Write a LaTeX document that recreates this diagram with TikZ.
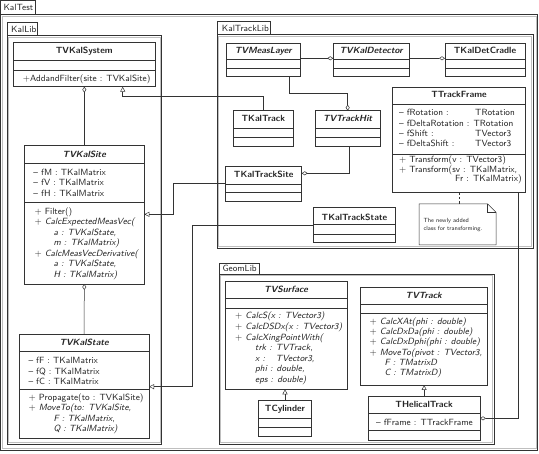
\documentclass[tikz,border=0pt]{standalone}
\usetikzlibrary{arrows.meta}
\newlength\trkw
\newcommand\st{\rule{0pt}{7pt}}
\newcommand\umlclass[7]{%
  \node[cls, minimum width={(#4)-(#2)}, minimum height={(#5)-(#3)}] (#1) at (#2,#3) {};
  \draw[lw] (#2,#6) -- (#4,#6);
  \draw[lw] (#2,#7) -- (#4,#7);}
\newcommand\umlpkg[4]{%
  \draw[pkgin] (#1+1.5,#2+1.5) rectangle (#3-1.5,#4-1.5);
  \draw[pkg] (#1,#2) rectangle (#3,#4);}
\tikzset{
  lw/.style={line width=0.5pt, draw=black!80},
  pkg/.style={draw=black!80, line width=0.6pt},
  pkgin/.style={draw=black!25, line width=1pt},
  cls/.style={draw=black!80, line width=0.5pt, fill=white, inner sep=0pt, outer sep=0pt, anchor=north west},
  ttl/.style={anchor=base, inner sep=0pt, text=black!85, font=\sffamily\bfseries\fontsize{9}{11}\selectfont},
  attl/.style={ttl, font=\sffamily\bfseries\itshape\fontsize{9}{11}\selectfont},
  lbl/.style={anchor=base west, inner sep=0pt, text=black!85, font=\sffamily\fontsize{9}{11}\selectfont},
  txt/.style={anchor=north west, inner sep=0pt, align=left, text=black!85, font=\sffamily\fontsize{9}{#1}\selectfont},
  txt/.default=10.4,
  agg/.style={draw=black!80, line width=0.5pt, -{Diamond[open, length=6pt, width=4pt]}},
  gen/.style={draw=black!80, line width=0.5pt, -{Triangle[open, length=5pt, width=5pt]}},
}
\begin{document}
\settowidth{\trkw}{\sffamily\itshape\fontsize{9}{10}\selectfont trk : }
\begin{tikzpicture}[x=1pt,y=-1pt]
\useasboundingbox (0,0) rectangle (539,454);
% packages
\umlpkg{0.5}{14.7}{537.5}{450}
\draw[pkg] (0.5,0.5) rectangle (35.7,14.7);
\node[lbl] (kaltest) at (3.3,10.5) {KalTest};
\umlpkg{7}{35.7}{161.7}{444}
\draw[pkg] (7,22.3) rectangle (37.7,35.7);
\node[lbl] (kallib) at (11,32.5) {KalLib};
\umlpkg{217}{34.7}{533}{248}
\draw[pkg] (217,21.7) rectangle (270,34.7);
\node[lbl] (kaltracklib) at (221.7,31.2) {KalTrackLib};
\umlpkg{219}{274.3}{494}{444}
\draw[pkg] (219,263.3) rectangle (259,274.3);
\node[lbl] (geomlib) at (222.3,272) {GeomLib};

% KalLib
\umlclass{kalsystem}{13.3}{42.3}{155.3}{86.7}{60.7}{70}
\node[ttl] (kalsystemT) at (kalsystem.north |- 0,54) {TVKalSystem};
\node[txt] (kalsystemM) at (22.7,74.3) {\st+AddandFilter(site : TVKalSite)};

\umlclass{kalsite}{24.3}{145.7}{144.3}{284}{163.3}{202.3}
\node[attl] (kalsiteT) at (kalsite.north |- 0,157.7) {TVKalSite};
\node[txt=10.4] (kalsiteA) at (33.3,168.3) {\st– fM : TKalMatrix\\– fV : TKalMatrix\\– fH : TKalMatrix};
\node[txt=10.56] (kalsiteM) at (34.3,207) {\st+ Filter()\\+ \textit{CalcExpectedMeasVec(}\\\hspace*{19pt}\textit{a : TVKalState,}\\\hspace*{19pt}\textit{m : TKalMatrix)}\\+ \textit{CalcMeasVecDerivative(}\\\hspace*{19pt}\textit{a : TVKalState,}\\\hspace*{19pt}\textit{H : TKalMatrix)}};

\umlclass{kalstate}{19.3}{334.3}{149}{438}{351.7}{389}
\node[attl] (kalstateT) at (kalstate.north |- 0,345.5) {TVKalState};
\node[txt=10.2] (kalstateA) at (28.3,356.7) {\st– fF : TKalMatrix\\– fQ : TKalMatrix\\– fC : TKalMatrix};
\node[txt=10.1] (kalstateM) at (28.3,393.7) {\st+ Propagate(to : TVKalSite)\\+ \textit{MoveTo(to: TVKalSite,}\\\hspace*{25pt}\textit{F : TKalMatrix,}\\\hspace*{25pt}\textit{Q : TKalMatrix)}};

% KalTrackLib
\umlclass{measlayer}{226}{43.3}{300.7}{76.7}{59.3}{68.3}
\node[attl] (measlayerT) at (measlayer.north |- 0,54) {TVMeasLayer};
\umlclass{kaldetector}{333.3}{43.3}{409}{76.7}{59.3}{68.3}
\node[attl] (kaldetectorT) at (kaldetector.north |- 0,54) {TVKalDetector};
\umlclass{cradle}{445}{43.3}{525}{76.7}{59.3}{68.3}
\node[ttl] (cradleT) at (cradle.north |- 0,54) {TKalDetCradle};

\umlclass{trackframe}{392.3}{87.3}{525.7}{192.3}{104.3}{154.3}
\node[ttl] (trackframeT) at (trackframe.north |- 0,97.5) {TTrackFrame};
\node[txt=10.2] (trackframeA) at (399,108.7) {\st– fRotation :\\– fDeltaRotation : TRotation\\– fShift :\\– fDeltaShift :};
\node[txt=10.2] (trackframeB) at (475,108.7) {\st TRotation\\\mbox{}\\TVector3\\TVector3};
\node[txt=9.9] (trackframeM) at (399,155) {\st+ Transform(v : TVector3)\\+ Transform(sv : TKalMatrix,\\\hspace*{56pt}Fr : TKalMatrix)};

\umlclass{kaltrack}{233.3}{110.7}{293.3}{146.7}{128.3}{137.3}
\node[ttl] (kaltrackT) at (kaltrack.north |- 0,122) {TKalTrack};
\umlclass{trackhit}{315.3}{110.7}{380}{146.7}{128.3}{137.3}
\node[attl] (trackhitT) at (trackhit.north |- 0,122) {TVTrackHit};
\umlclass{tracksite}{225.7}{166}{301.7}{201}{184}{192.7}
\node[ttl] (tracksiteT) at (tracksite.north |- 0,177.5) {TKalTrackSite};
\umlclass{trackstate}{313.3}{207.7}{395.7}{242.7}{224.3}{234}
\node[ttl] (trackstateT) at (trackstate.north |- 0,220.5) {TKalTrackState};

% note
\node[inner sep=0pt, outer sep=0pt, minimum width=77pt, minimum height=41pt, anchor=north west] (note) at (419,204) {};
\draw[lw] (note.north west) -- ([xshift=-8.3pt]note.north east) -- ([yshift=-8.3pt]note.north east) -- (note.south east) -- (note.south west) -- cycle;
\draw[lw] ([xshift=-8.3pt]note.north east) |- ([yshift=-8.3pt]note.north east);
\node[txt, font=\sffamily\fontsize{6}{8.3}\selectfont] (notetext) at (423.3,217) {\rule{0pt}{5pt}The newly added\\class for transforming.};

% GeomLib
\umlclass{surface}{225}{281.7}{347.3}{389.3}{298.3}{308.3}
\node[attl] (surfaceT) at (surface.north |- 0,292.5) {TVSurface};
\node[txt=10.6] (surfaceM) at (235,311.7) {\st+ \textit{CalcS(x : TVector3)}\\+ \textit{CalcDSDx(x : TVector3)}\\+ \textit{CalcXingPointWith(}\\\hspace*{20pt}\textit{trk : TVTrack,}\\\hspace*{20pt}\textit{\makebox[\trkw][l]{x :}TVector3,}\\\hspace*{20pt}\textit{phi : double,}\\\hspace*{20pt}\textit{eps : double)}};

\umlclass{cylinder}{258.3}{400}{311.7}{436}{418.3}{427.7}
\node[ttl] (cylinderT) at (cylinder.north |- 0,412) {TCylinder};

\umlclass{vtrack}{360}{287.3}{487.7}{385}{304.3}{313.3}
\node[attl] (vtrackT) at (vtrack.north |- 0,299) {TVTrack};
\node[txt=10.3] (vtrackM) at (369.3,317) {\st+ \textit{CalcXAt(phi : double)}\\+ \textit{CalcDxDa(phi : double)}\\+ \textit{CalcDxDphi(phi : double)}\\+ \textit{MoveTo(pivot : TVector3,}\\\hspace*{15pt}\textit{F : TMatrixD}\\\hspace*{15pt}\textit{C : TMatrixD)}};

\umlclass{helical}{368.3}{396.7}{480}{440}{413.3}{430}
\node[ttl] (helicalT) at (helical.north |- 0,407.5) {THelicalTrack};
\node[txt] (helicalA) at (376,418.7) {\st– fFrame : TTrackFrame};

% connectors
\draw[agg] (kalsite.north) -- (kalsystem.south);
\draw[agg] (kalstate.north) -- (kalsite.south);
\coordinate (g1) at (122.7,96.7);
\draw[gen] (kaltrack.north) |- (g1) -- (g1 |- kalsystem.south);
\draw[agg] ([yshift=1.7pt]measlayer.east) -- ([yshift=1.7pt]kaldetector.west);
\draw[agg] ([yshift=1.7pt]kaldetector.east) -- ([yshift=1.7pt]cradle.west);
\coordinate (c5) at (347.7,93.3);
\draw[agg] ([xshift=25.7pt]measlayer.south) |- (c5) -- (c5 |- trackhit.north);
\draw[agg] ([xshift=1.3pt]trackhit.south) |- ([yshift=10.2pt]tracksite.east);
\coordinate (c7) at (173.3,214.3);
\draw[gen] (tracksite.west) -| (c7) -- (c7 -| kalsite.east);
\coordinate (c8) at (192.3,386.7);
\draw[gen] (trackstate.west) -| (c8) -- (c8 -| kalstate.east);
\draw[agg] ([xshift=59.7pt]trackframe.south) |- (helical.east);
\draw[lw, dash pattern=on 2.5pt off 2pt] (trackframe.south) -- (trackframe.south |- note.north);
\draw[gen] (cylinder.north) -- (cylinder.north |- surface.south);
\draw[gen] (helical.north) -- (helical.north |- vtrack.south);
\end{tikzpicture}
\end{document}
